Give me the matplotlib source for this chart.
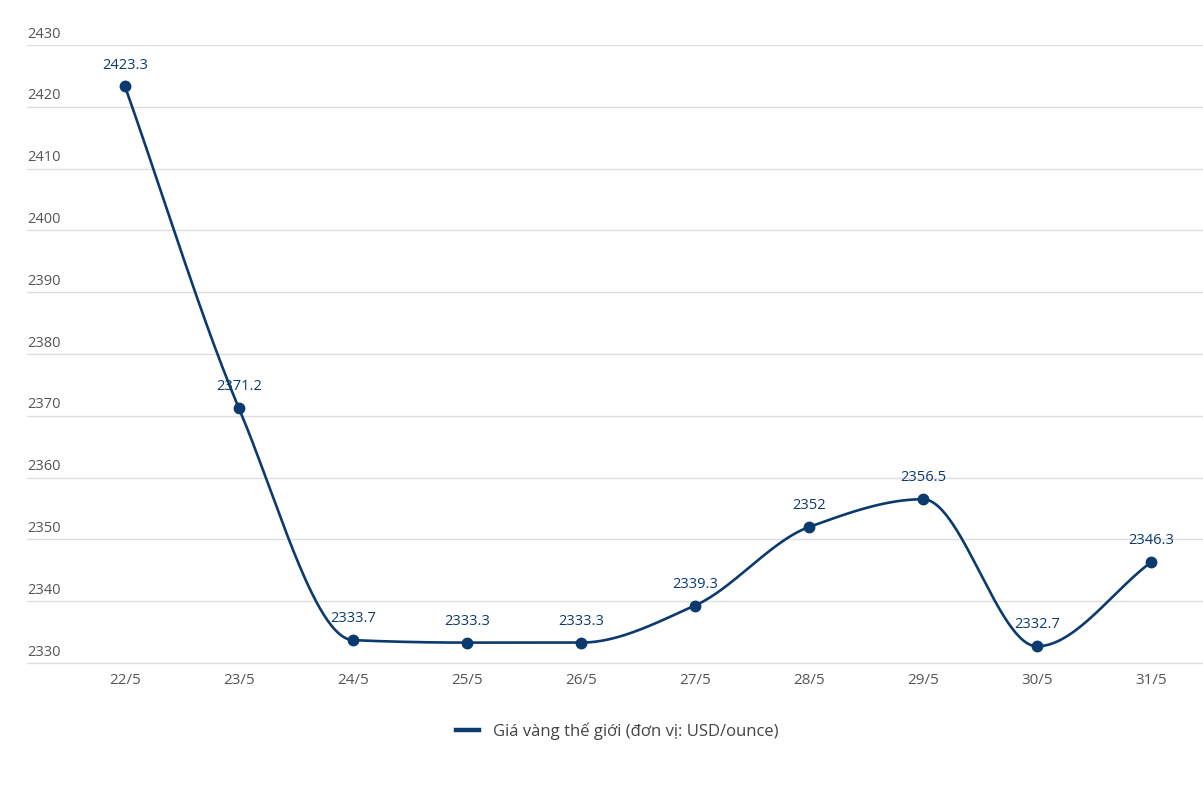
import numpy as np
import matplotlib
matplotlib.use("Agg")
import matplotlib.pyplot as plt
from matplotlib.lines import Line2D

dates = ["22/5", "23/5", "24/5", "25/5", "26/5", "27/5", "28/5", "29/5", "30/5", "31/5"]
prices = [2423.3, 2371.2, 2333.7, 2333.3, 2333.3, 2339.3, 2352, 2356.5, 2332.7, 2346.3]
labels = ["2423.3", "2371.2", "2333.7", "2333.3", "2333.3", "2339.3", "2352", "2356.5", "2332.7", "2346.3"]
yticks = [2330, 2340, 2350, 2360, 2370, 2380, 2390, 2400, 2410, 2420, 2430]
series_name = "Giá vàng thế giới (đơn vị: USD/ounce)"

NAVY = "#0b3a6e"
GRID = "#dedede"
TICK = "#555555"

plt.rcParams['font.family'] = ['Open Sans', 'DejaVu Sans']

W, H = 1203, 798
fig = plt.figure(figsize=(W / 100, H / 100), dpi=100)

# pixel layout
x_left, x_right = 27, 1203
y_top, y_bot = 45, 663
ax = fig.add_axes([x_left / W, 1 - (y_bot + 2) / H, (x_right - x_left) / W, (y_bot + 2 - y_top) / H])

step = (1151 - 125) / 9.0
ax.set_xlim((x_left - 125) / step, (x_right - 125) / step)
ax.set_ylim(2330 - 2 * 10 / 61.8, 2430)

# monotone cubic (Fritsch-Carlson) for the smoothed line
x = np.arange(len(prices), dtype=float)
y = np.array(prices, dtype=float)
h = np.diff(x)
d = np.diff(y) / h
m = np.zeros_like(y)
m[0] = d[0]
m[-1] = d[-1]
for i in range(1, len(y) - 1):
    if d[i - 1] * d[i] <= 0:
        m[i] = 0.0
    else:
        w1 = 2 * h[i] + h[i - 1]
        w2 = h[i] + 2 * h[i - 1]
        m[i] = (w1 + w2) / (w1 / d[i - 1] + w2 / d[i])
xs, ys = [], []
for i in range(len(y) - 1):
    t = np.linspace(0, 1, 60)
    h00 = 2 * t**3 - 3 * t**2 + 1
    h10 = t**3 - 2 * t**2 + t
    h01 = -2 * t**3 + 3 * t**2
    h11 = t**3 - t**2
    xs.append(x[i] + t * h[i])
    ys.append(h00 * y[i] + h10 * h[i] * m[i] + h01 * y[i + 1] + h11 * h[i] * m[i + 1])
xs = np.concatenate(xs)
ys = np.concatenate(ys)

ax.plot(xs, ys, color=NAVY, lw=1.9, zorder=3, solid_capstyle='round')
ax.plot(x, y, 'o', color=NAVY, ms=7.5, zorder=4)

for xi, yi, lab in zip(x, y, labels):
    ax.annotate(lab, (xi, yi), xytext=(0, 10), textcoords='offset points',
                ha='center', va='bottom', fontsize=10.5, color=NAVY)

# grid
for yt in yticks:
    ax.axhline(yt, color=GRID, lw=1, zorder=1)
    ax.annotate(str(yt), (0, yt), xycoords=('axes fraction', 'data'),
                xytext=(0, 2.5), textcoords='offset points',
                ha='left', va='bottom', fontsize=10.5, color=TICK)

ax.set_xticks(x)
ax.set_xticklabels(dates, fontsize=11, color=TICK)
ax.tick_params(axis='x', length=0, pad=6)
ax.set_yticks([])
for s in ax.spines.values():
    s.set_visible(False)

handle = Line2D([], [], color=NAVY, lw=3.2)
fig.legend([handle], [series_name], loc='center', bbox_to_anchor=(617 / W, 1 - 731 / H),
           frameon=False, fontsize=12, labelcolor='#444444', handlelength=1.4,
           handletextpad=0.8)

fig.savefig("out.png", dpi=100)
